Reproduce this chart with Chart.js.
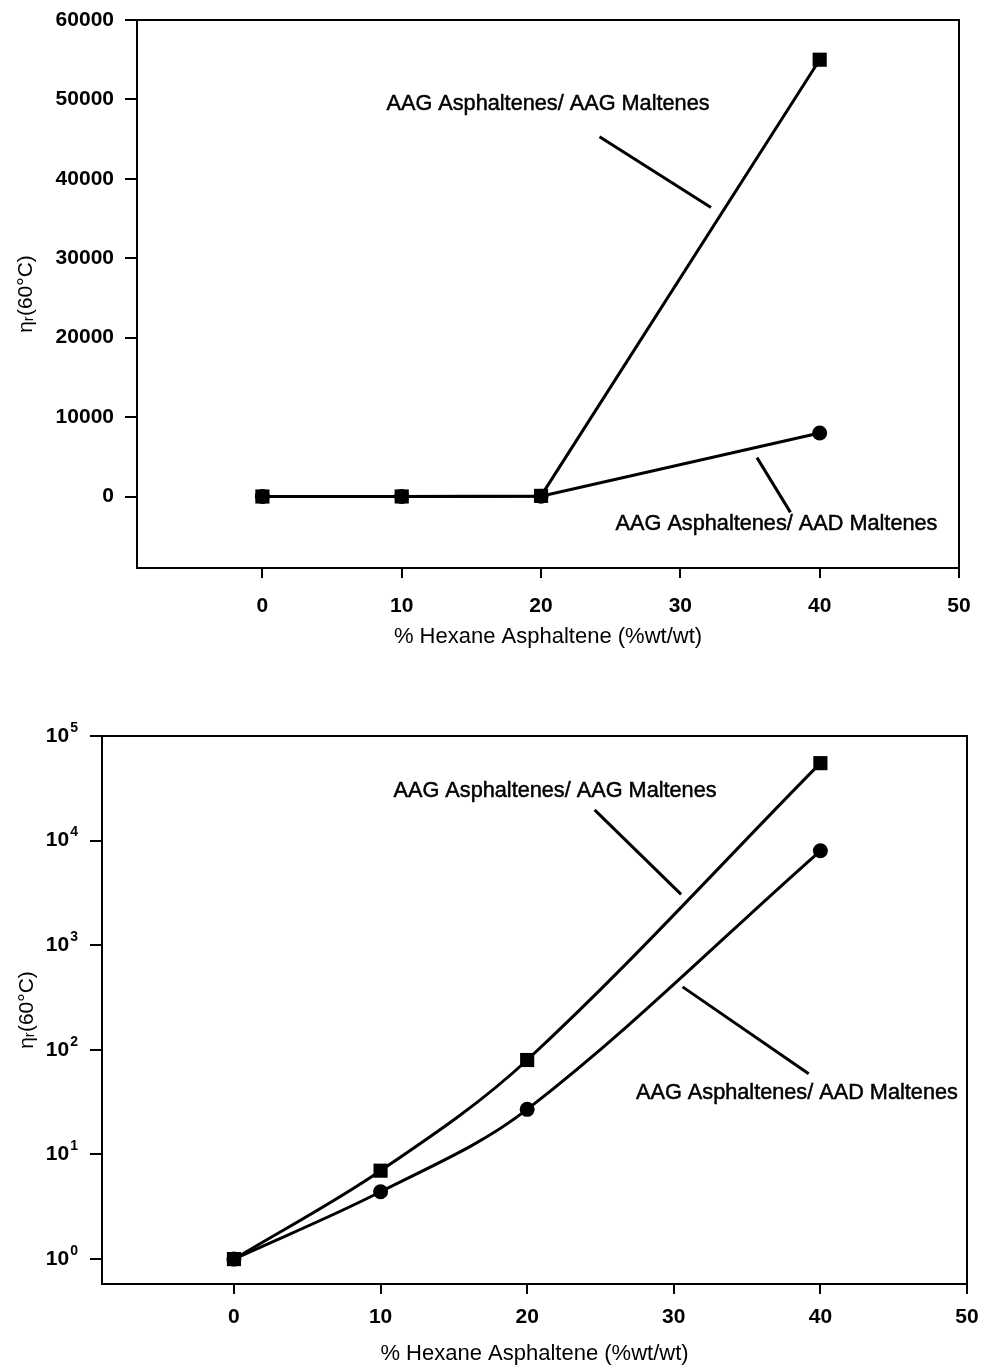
<!DOCTYPE html>
<html>
<head>
<meta charset="utf-8">
<script src="https://cdn.jsdelivr.net/npm/chart.js@4.4.0/dist/chart.umd.min.js"></script>
<style>
  body { margin: 0; background: #fff; width: 984px; height: 1365px; position: relative; overflow: hidden; }
  canvas { position: absolute; left: 0; }
</style>
</head>
<body>
<canvas id="linChart" width="984" height="680" style="top:0"></canvas>
<canvas id="logChart" width="984" height="685" style="top:680px"></canvas>
<script>
// data
var asphaltene = [0, 10, 20, 40];
var aagMaltenes = [1, 7, 80, 55000];
var aadMaltenes = [1, 4.4, 27, 8000];

var xTicks = [0, 10, 20, 30, 40, 50];
var yTicksLin = [0, 10000, 20000, 30000, 40000, 50000, 60000];
var yTicksLog = [1, 10, 100, 1000, 10000, 100000];

var nameAAG = 'AAG Asphaltenes/ AAG Maltenes';
var nameAAD = 'AAG Asphaltenes/ AAD Maltenes';
var xTitle = '% Hexane Asphaltene (%wt/wt)';
var yTitle = 'ηᵣ(60°C)';

var FONT = '"Liberation Sans", Arial, Helvetica, sans-serif';

function points(ys) {
  return asphaltene.map(function(x, i) { return { x: x, y: ys[i] }; });
}

function fixTicks(list) {
  return function(scale) { scale.ticks = list.map(function(v) { return { value: v }; }); };
}

function noPad(s) {
  s.paddingLeft = s.paddingRight = s.paddingTop = s.paddingBottom = 0;
}

// frame, callout labels and log tick labels
var notesPlugin = {
  id: 'notes',
  beforeDatasetsDraw: function(chart) {
    var a = chart.chartArea, ctx = chart.ctx;
    ctx.save();
    ctx.strokeStyle = '#000';
    ctx.lineWidth = 2;
    ctx.strokeRect(a.left, a.top, a.right - a.left, a.bottom - a.top);
    ctx.restore();
  },
  afterDraw: function(chart, args, opts) {
    var ctx = chart.ctx, xs = chart.scales.x, ys = chart.scales.y;
    ctx.save();
    ctx.fillStyle = '#000';
    ctx.strokeStyle = '#000';
    (opts.lines || []).forEach(function(l) {
      ctx.lineWidth = 3;
      ctx.beginPath();
      ctx.moveTo(xs.getPixelForValue(l[0]), ys.getPixelForValue(l[1]));
      ctx.lineTo(xs.getPixelForValue(l[2]), ys.getPixelForValue(l[3]));
      ctx.stroke();
    });
    ctx.font = '21.7px ' + FONT;
    ctx.textAlign = 'center';
    ctx.textBaseline = 'middle';
    ctx.lineWidth = 0.5;
    (opts.texts || []).forEach(function(t) {
      var px = xs.getPixelForValue(t.x), py = ys.getPixelForValue(t.y);
      ctx.fillText(t.text, px, py);
      ctx.strokeText(t.text, px, py);
    });
    if (opts.powerLabels) {
      var right = chart.chartArea.left - 24;
      ctx.textAlign = 'right';
      yTicksLog.forEach(function(v) {
        var y = ys.getPixelForValue(v);
        var e = String(Math.round(Math.log10(v)));
        ctx.font = 'bold 14px ' + FONT;
        var ew = ctx.measureText(e).width;
        ctx.fillText(e, right, y - 8);
        ctx.font = 'bold 21px ' + FONT;
        ctx.fillText('10', right - ew - 1, y);
      });
    }
    ctx.restore();
  }
};

function makeChart(id, opt) {
  var tickFont = { family: FONT, size: 21, weight: 'bold' };
  new Chart(document.getElementById(id), {
    type: 'line',
    data: {
      datasets: [
        {
          label: nameAAG,
          data: points(aagMaltenes),
          borderColor: '#000',
          borderWidth: 3,
          pointStyle: 'rect',
          pointRadius: 10,
          pointBackgroundColor: '#000',
          pointBorderColor: '#000',
          pointBorderWidth: 0,
          tension: opt.tension
        },
        {
          label: nameAAD,
          data: points(aadMaltenes),
          borderColor: '#000',
          borderWidth: 3,
          pointStyle: 'circle',
          pointRadius: 7.5,
          pointBackgroundColor: '#000',
          pointBorderColor: '#000',
          pointBorderWidth: 0,
          tension: opt.tension
        }
      ]
    },
    options: {
      responsive: false,
      animation: false,
      layout: { padding: { top: opt.padTop, right: opt.padRight, left: 0, bottom: 0 } },
      plugins: {
        legend: { display: false },
        tooltip: { enabled: false },
        notes: opt.notes
      },
      scales: {
        x: {
          type: 'linear',
          min: -9,
          max: 50,
          afterBuildTicks: fixTicks(xTicks),
          afterFit: function(s) { s.height = opt.xHeight; noPad(s); },
          border: { display: true, color: '#000', width: 2 },
          grid: { drawOnChartArea: false, drawTicks: true, tickLength: 10, color: '#000', lineWidth: 2 },
          ticks: { font: tickFont, color: '#000', padding: opt.xTickPad, maxRotation: 0 },
          title: {
            display: true, text: xTitle, color: '#000',
            font: { family: FONT, size: 22, lineHeight: 1 },
            padding: { top: 0, bottom: opt.xTitlePad }
          }
        },
        y: {
          type: opt.yType,
          min: opt.yMin,
          max: opt.yMax,
          afterBuildTicks: fixTicks(opt.yTicks),
          afterFit: function(s) { s.width = opt.yWidth; noPad(s); },
          border: { display: true, color: '#000', width: 2 },
          grid: { drawOnChartArea: false, drawTicks: true, tickLength: 12, color: '#000', lineWidth: 2 },
          ticks: {
            display: opt.yType === 'linear',
            font: tickFont, color: '#000', padding: 11,
            callback: function(v) { return String(v); }
          },
          title: {
            display: true, text: yTitle, color: '#000',
            font: { family: FONT, size: 21, lineHeight: 1 },
            padding: { top: opt.yTitlePad, bottom: 0 }
          }
        }
      }
    },
    plugins: [notesPlugin]
  });
}

makeChart('linChart', {
  tension: 0,
  padTop: 20, padRight: 25,
  xHeight: 112, xTickPad: 16, xTitlePad: 32,
  yType: 'linear', yMin: -9000, yMax: 60000, yTicks: yTicksLin,
  yWidth: 137, yTitlePad: 16,
  notes: {
    texts: [
      { text: nameAAG, x: 20.5, y: 49400 },
      { text: nameAAD, x: 36.9, y: -3500 }
    ],
    lines: [
      [24.2, 45300, 32.2, 36400],
      [35.5, 4900, 37.9, -2000]
    ]
  }
});

makeChart('logChart', {
  tension: 0.35,
  padTop: 56, padRight: 17,
  xHeight: 81, xTickPad: 11, xTitlePad: 0,
  yType: 'logarithmic', yMin: 0.578, yMax: 100000, yTicks: yTicksLog,
  yWidth: 102, yTitlePad: 17,
  notes: {
    powerLabels: true,
    texts: [
      { text: nameAAG, x: 21.9, y: 29900 },
      { text: nameAAD, x: 38.4, y: 39 }
    ],
    lines: [
      [24.6, 19700, 30.5, 3060],
      [30.6, 400, 39.2, 59]
    ]
  }
});
</script>
</body>
</html>
